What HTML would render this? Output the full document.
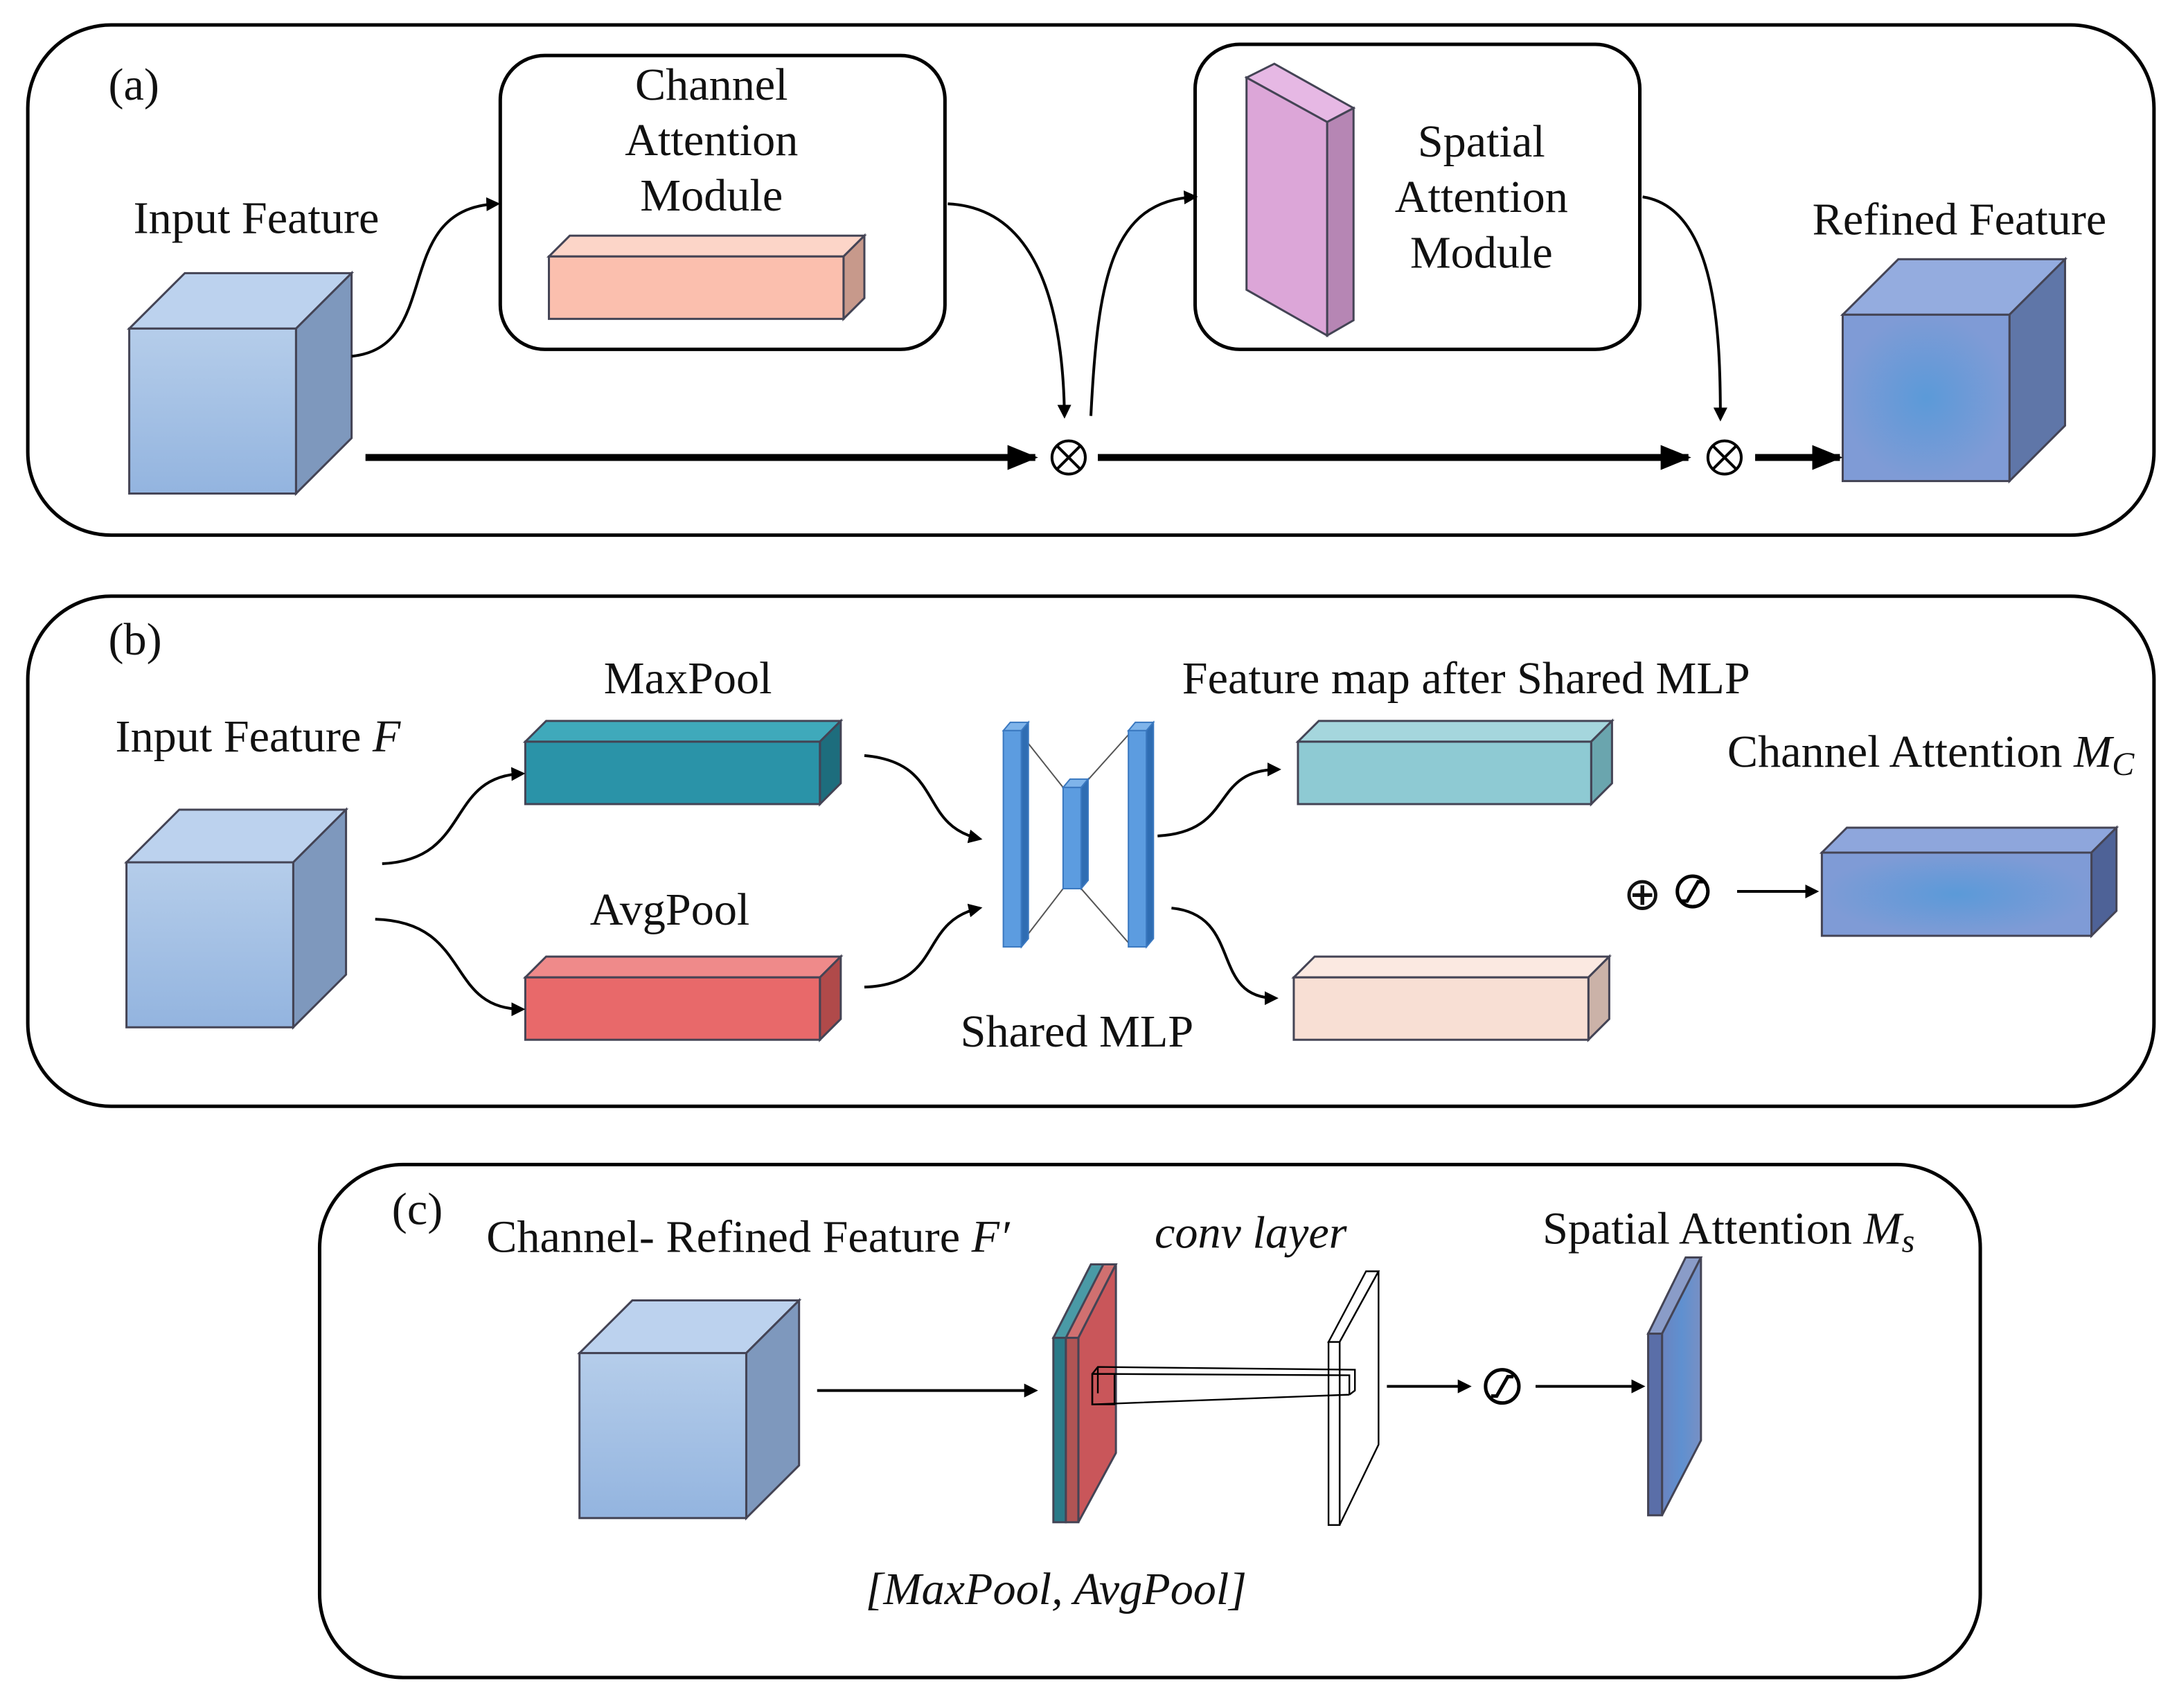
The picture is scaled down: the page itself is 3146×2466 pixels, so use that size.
<!DOCTYPE html>
<html><head><meta charset="utf-8"><style>
html,body{margin:0;padding:0;background:#fff;}
svg{display:block;}
text{font-family:"Liberation Serif",serif;font-size:33px;fill:#111;}
.it{font-style:italic;}
</style></head><body>
<svg width="3146" height="2466" viewBox="0 0 1568 1232" preserveAspectRatio="none" xmlns="http://www.w3.org/2000/svg">
<defs>
<marker id="ah" markerWidth="10" markerHeight="10" refX="8" refY="5" orient="auto" markerUnits="userSpaceOnUse"><path d="M0,0 L10,5 L0,10 z" fill="#000"/></marker>
<marker id="ahb" markerWidth="22" markerHeight="18" refX="20" refY="9" orient="auto" markerUnits="userSpaceOnUse"><path d="M0,0 L22,9 L0,18 z" fill="#000"/></marker>
<linearGradient id="cube" x1="0" y1="0" x2="0" y2="1"><stop offset="0" stop-color="#b5cdea"/><stop offset="1" stop-color="#93b4df"/></linearGradient>
<radialGradient id="ref"><stop offset="0" stop-color="#5b9ad8"/><stop offset="1" stop-color="#7f9bd6"/></radialGradient>
<linearGradient id="sblue" x1="0" y1="0" x2="1" y2="0"><stop offset="0" stop-color="#6a84c0"/><stop offset="0.5" stop-color="#5f90d0"/><stop offset="1" stop-color="#7890c4"/></linearGradient>
</defs>
<g fill="none" stroke="#000" stroke-width="2.5">
<rect x="20" y="18" width="1530" height="368" rx="60"/>
<rect x="20" y="430" width="1530" height="368" rx="60"/>
<rect x="230" y="840" width="1195" height="370" rx="60"/>
<rect x="360" y="40" width="320" height="212" rx="32"/>
<rect x="860" y="32" width="320" height="220" rx="32"/>
</g>
<!-- (a) -->
<text x="78" y="72">(a)</text>
<text x="512" y="72" text-anchor="middle">Channel</text>
<text x="512" y="112" text-anchor="middle">Attention</text>
<text x="512" y="152" text-anchor="middle">Module</text>
<text x="1066" y="113" text-anchor="middle">Spatial</text>
<text x="1066" y="153" text-anchor="middle">Attention</text>
<text x="1066" y="193" text-anchor="middle">Module</text>
<text x="96" y="168">Input Feature</text>
<text x="1410" y="169" text-anchor="middle">Refined Feature</text>
<g stroke="#445" stroke-width="1.5">
<polygon points="93,237 133,197 253,197 213,237" fill="#bcd2ee"/>
<polygon points="213,237 253,197 253,316 213,356" fill="#7e98bd"/>
<rect x="93" y="237" width="120" height="119" fill="url(#cube)"/>
<polygon points="395,185 410,170 622,170 607,185" fill="#fcd5c8"/>
<polygon points="607,185 622,170 622,215 607,230" fill="#c7998b"/>
<rect x="395" y="185" width="212" height="45" fill="#fbbfae"/>
<polygon points="897,56 917,46 974,78 955,88" fill="#e6b8e4"/>
<polygon points="955,88 974,78 974,231 955,242" fill="#b686b4"/>
<polygon points="897,56 955,88 955,242 897,209" fill="#dca6d8"/>
<polygon points="1326,227 1366,187 1486,187 1446,227" fill="#94acdf"/>
<polygon points="1446,227 1486,187 1486,307 1446,347" fill="#5f76a8"/>
<rect x="1326" y="227" width="120" height="120" fill="url(#ref)"/>
</g>
<g fill="none" stroke="#000" stroke-width="2">
<path d="M253,257 C320,250 280,150 358,147" marker-end="url(#ah)"/>
<path d="M682,147 C750,150 765,230 766,300" marker-end="url(#ah)"/>
<path d="M785,300 C790,200 800,145 860,142" marker-end="url(#ah)"/>
<path d="M1182,142 C1235,150 1238,240 1238,302" marker-end="url(#ah)"/>
</g>
<g stroke="#000" stroke-width="5" fill="none">
<line x1="263" y1="330" x2="745" y2="330" marker-end="url(#ahb)"/>
<line x1="790" y1="330" x2="1215" y2="330" marker-end="url(#ahb)"/>
<line x1="1263" y1="330" x2="1324" y2="330" marker-end="url(#ahb)"/>
</g>
<g stroke="#000" stroke-width="2" fill="#fff">
<circle cx="769" cy="330" r="12"/><path d="M761,322 L777,338 M777,322 L761,338"/>
<circle cx="1241" cy="330" r="12"/><path d="M1233,322 L1249,338 M1249,322 L1233,338"/>
</g>
<!-- (b) -->
<text x="78" y="472">(b)</text>
<text x="83" y="542">Input Feature <tspan class="it">F</tspan></text>
<text x="495" y="500" text-anchor="middle">MaxPool</text>
<text x="482" y="667" text-anchor="middle">AvgPool</text>
<text x="775" y="755" text-anchor="middle">Shared MLP</text>
<text x="1055" y="500" text-anchor="middle">Feature map after Shared MLP</text>
<text x="1243" y="553">Channel Attention <tspan class="it">M</tspan><tspan class="it" font-size="24" dy="6">C</tspan></text>
<text x="1168" y="656" font-size="36">⊕</text>
<g fill="none" stroke="#000" stroke-width="2.5"><circle cx="1218" cy="643" r="11"/><path d="M1210,650 L1214,650 L1222,636 L1226,636"/></g>
<g stroke="#445" stroke-width="1.5">
<polygon points="91,622 129,584 249,584 211,622" fill="#bcd2ee"/>
<polygon points="211,622 249,584 249,703 211,741" fill="#7e98bd"/>
<rect x="91" y="622" width="120" height="119" fill="url(#cube)"/>
<polygon points="378,535 393,520 605,520 590,535" fill="#3fa9bb"/>
<polygon points="590,535 605,520 605,565 590,580" fill="#1d6d7d"/>
<rect x="378" y="535" width="212" height="45" fill="#2a93a8"/>
<polygon points="378,705 393,690 605,690 590,705" fill="#ef8a8a"/>
<polygon points="590,705 605,690 605,735 590,750" fill="#b04a4a"/>
<rect x="378" y="705" width="212" height="45" fill="#e8696a"/>
<polygon points="934,535 949,520 1160,520 1145,535" fill="#a5d6dd"/>
<polygon points="1145,535 1160,520 1160,565 1145,580" fill="#6aa5ae"/>
<rect x="934" y="535" width="211" height="45" fill="#8ecad3"/>
<polygon points="931,705 946,690 1158,690 1143,705" fill="#fbe9e1"/>
<polygon points="1143,705 1158,690 1158,735 1143,750" fill="#cbb2a8"/>
<rect x="931" y="705" width="212" height="45" fill="#f8dfd4"/>
<polygon points="1311,615 1329,597 1523,597 1505,615" fill="#8ea6dc"/>
<polygon points="1505,615 1523,597 1523,657 1505,675" fill="#4e6297"/>
<rect x="1311" y="615" width="194" height="60" fill="url(#ref)"/>
</g>
<g stroke="#555" stroke-width="1" fill="none">
<path d="M735,530 L765,568 M735,680 L765,641 M778,568 L812,530 M778,641 L812,680"/>
</g>
<g stroke="#3a78c0" stroke-width="1">
<polygon points="722,527 727,521 740,521 735,527" fill="#7fb4ea"/>
<rect x="722" y="527" width="13" height="156" fill="#5c9ce0"/>
<polygon points="735,527 740,521 740,677 735,683" fill="#2f6db3"/>
<polygon points="765,568 770,562 783,562 778,568" fill="#7fb4ea"/>
<rect x="765" y="568" width="13" height="73" fill="#5c9ce0"/>
<polygon points="778,568 783,562 783,635 778,641" fill="#2f6db3"/>
<polygon points="812,527 817,521 830,521 825,527" fill="#7fb4ea"/>
<rect x="812" y="527" width="13" height="156" fill="#5c9ce0"/>
<polygon points="825,527 830,521 830,677 825,683" fill="#2f6db3"/>
</g>
<g fill="none" stroke="#000" stroke-width="2">
<path d="M275,623 C340,620 320,560 376,558" marker-end="url(#ah)"/>
<path d="M270,663 C340,665 320,728 376,728" marker-end="url(#ah)"/>
<path d="M622,545 C680,550 660,595 705,605" marker-end="url(#ah)"/>
<path d="M622,712 C680,710 660,665 705,655" marker-end="url(#ah)"/>
<path d="M833,603 C890,600 870,555 920,555" marker-end="url(#ah)"/>
<path d="M843,655 C895,660 870,720 918,720" marker-end="url(#ah)"/>
<line x1="1250" y1="643" x2="1307" y2="643" marker-end="url(#ah)"/>
</g>
<!-- (c) -->
<text x="282" y="883">(c)</text>
<text x="350" y="903">Channel- Refined Feature <tspan class="it">F′</tspan></text>
<text x="900" y="900" text-anchor="middle" class="it">conv layer</text>
<text x="1110" y="897">Spatial Attention <tspan class="it">M</tspan><tspan class="it" font-size="24" dy="6">s</tspan></text>
<text x="760" y="1157" text-anchor="middle" class="it">[MaxPool, AvgPool]</text>
<g stroke="#445" stroke-width="1.5">
<polygon points="417,976 455,938 575,938 537,976" fill="#bcd2ee"/>
<polygon points="537,976 575,938 575,1057 537,1095" fill="#7e98bd"/>
<rect x="417" y="976" width="120" height="119" fill="url(#cube)"/>
<!-- pooled slab -->
<polygon points="758,965 785,912 803,912 776,965" fill="#4a9aa6"/>
<polygon points="767,965 794,912 803,912 776,965" fill="#d07070"/>
<polygon points="776,965 803,912 803,1048 776,1098" fill="#c9565a"/>
<rect x="758" y="965" width="9" height="133" fill="#2a7a88"/>
<rect x="767" y="965" width="9" height="133" fill="#b05454"/>
<!-- spatial attention slab -->
<polygon points="1186,962 1213,907 1224,907 1196,962" fill="#8a9cc8"/>
<polygon points="1196,962 1224,907 1224,1039 1196,1093" fill="url(#sblue)"/>
<rect x="1186" y="962" width="10" height="131" fill="#5a6ea8"/>
</g>
<g fill="none" stroke="#000" stroke-width="1.2">
<polygon points="956,968 983,917 992,917 964,968" fill="#fff"/>
<polygon points="964,968 992,917 992,1042 964,1100" fill="#fff"/>
<rect x="956" y="968" width="8" height="132" fill="#fff"/>
<path d="M786,991 L790,986 L975,988 L975,1003 L971,1006 M786,991 L971,992 L971,1006 M786,991 L786,1013 L971,1006 M790,986 L790,1005"/>
<rect x="786" y="991" width="16" height="22"/>
</g>
<g fill="none" stroke="#000" stroke-width="2">
<line x1="588" y1="1003" x2="745" y2="1003" marker-end="url(#ah)"/>
<line x1="998" y1="1000" x2="1057" y2="1000" marker-end="url(#ah)"/>
<line x1="1105" y1="1000" x2="1182" y2="1000" marker-end="url(#ah)"/>
<circle cx="1081" cy="1000" r="12" stroke-width="2.5"/>
<path d="M1073,1007 L1077,1007 L1085,993 L1089,993" stroke-width="2.5"/>
</g>
</svg>
</body></html>
